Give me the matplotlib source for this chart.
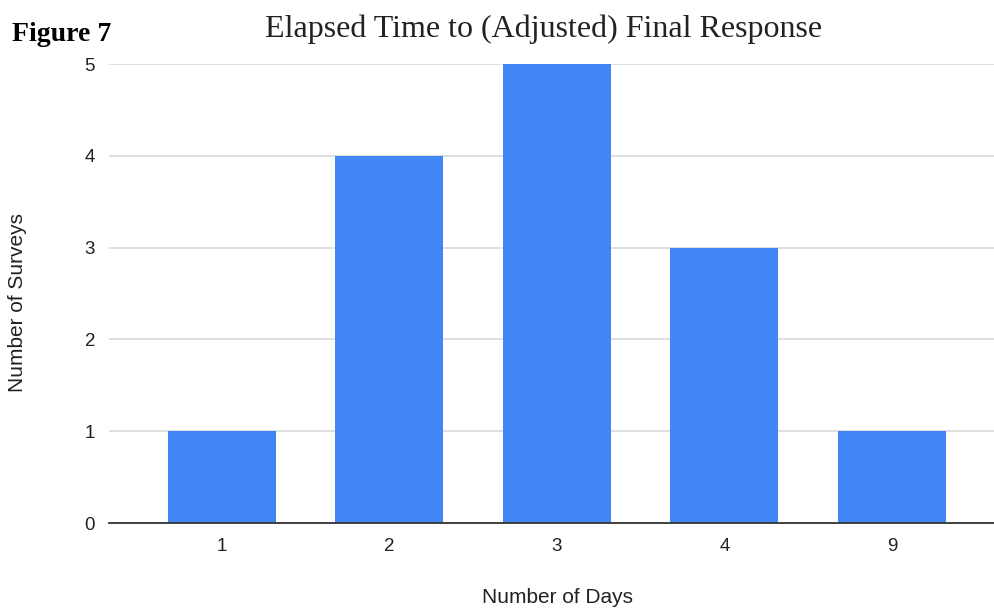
import matplotlib.pyplot as plt

days = ['1', '2', '3', '4', '9']
surveys = [1, 4, 5, 3, 1]
y_ticks = [0, 1, 2, 3, 4, 5]

bar_color = '#4285f4'
grid_color = '#d9d9d9'
text_color = '#222222'

fig = plt.figure(figsize=(9.95, 6.08), dpi=100)
ax = fig.add_axes([0.1095, 0.1398, 0.9005, 0.7549])

x = range(len(days))
ax.bar(x, surveys, width=0.645, color=bar_color, zorder=3)

ax.set_xlim(-0.675, len(days) - 1 + 0.675)
ax.set_ylim(0, 5)
ax.set_xticks(list(x))
ax.set_xticklabels(days)
ax.set_yticks(y_ticks)
ax.yaxis.grid(True, color=grid_color, linewidth=1.2, zorder=0)
ax.tick_params(length=0, labelsize=13.5, colors=text_color)
ax.tick_params(axis='y', pad=10)
ax.tick_params(axis='x', pad=11)

for side in ['top', 'right', 'left']:
    ax.spines[side].set_visible(False)
ax.spines['bottom'].set_color('#333333')
ax.spines['bottom'].set_linewidth(1.3)
ax.spines['bottom'].set_zorder(4)

for lbl in ax.get_xticklabels() + ax.get_yticklabels():
    lbl.set_family('Liberation Sans')

# axis titles placed in figure coords
fig.text(0.5598, 0.018, 'Number of Days', ha='center', va='center',
         fontsize=15, family='Liberation Sans', color=text_color)
fig.text(0.018, 0.503, 'Number of Surveys', ha='center', va='center',
         rotation=90, fontsize=15, family='Liberation Sans', color=text_color)

fig.text(0.546, 0.952, 'Elapsed Time to (Adjusted) Final Response',
         ha='center', va='center', fontsize=23, family='Liberation Serif',
         color=text_color)
fig.text(0.012, 0.943, 'Figure 7', ha='left', va='center', fontsize=20,
         family='Liberation Serif', fontweight='bold', color='black')

fig.savefig('out.png', dpi=100)
